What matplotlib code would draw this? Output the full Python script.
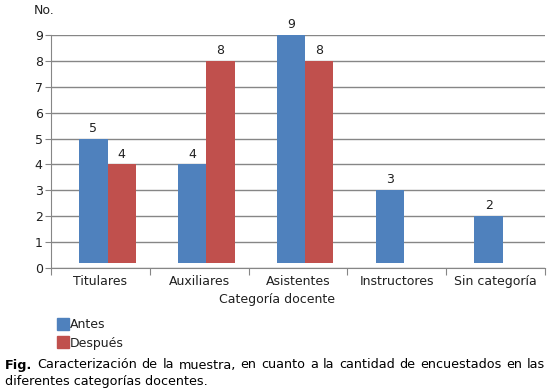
import numpy as np
import matplotlib.pyplot as plt

# datos del gráfico
categorias = ["Titulares", "Auxiliares", "Asistentes", "Instructores", "Sin categoría"]
antes = [5, 4, 9, 3, 2]
despues = [4, 8, 8, None, None]

azul = "#4F81BD"
rojo = "#C0504D"
gris = "#868686"
texto = "#202020"
fs = 9

plt.rcParams['font.family'] = ['DejaVu Sans']

fig = plt.figure(figsize=(5.51, 3.92), dpi=100)
ax = fig.add_axes([51 / 551, 1 - 268 / 392, 494 / 551, 233 / 392])

x = np.arange(len(categorias))
ancho = 0.286
base = 0.18  # las barras arrancan un poco por encima del eje, como en el original

for i, v in enumerate(antes):
    ax.bar(x[i] - 0.214, v - base, width=ancho, bottom=base, color=azul, align='edge')
    ax.text(x[i] - 0.214 + ancho / 2, v + 0.15, str(v), ha='center', va='bottom',
            fontsize=fs, color=texto)
for i, v in enumerate(despues):
    if v is None:
        continue
    ax.bar(x[i] + 0.072, v - base, width=ancho, bottom=base, color=rojo, align='edge')
    ax.text(x[i] + 0.072 + ancho / 2, v + 0.15, str(v), ha='center', va='bottom',
            fontsize=fs, color=texto)

ax.set_xlim(-0.5, len(categorias) - 0.5)
ax.set_ylim(0, 9)
ax.set_yticks(range(0, 10))
ax.yaxis.grid(True, color=gris, linewidth=1)
ax.set_axisbelow(True)
ax.tick_params(axis='y', length=4, color=gris, labelsize=fs, labelcolor=texto, pad=2)

# marcas en los límites de categoría, etiquetas al centro
ax.set_xticks(np.arange(-0.5, len(categorias)), minor=False)
ax.set_xticklabels([])
ax.set_xticks(x, minor=True)
ax.set_xticklabels(categorias, minor=True)
ax.tick_params(axis='x', which='major', length=5, color=gris)
ax.tick_params(axis='x', which='minor', length=0, labelsize=fs, labelcolor=texto, pad=5)

for s in ['top', 'right']:
    ax.spines[s].set_visible(False)
for s in ['left', 'bottom']:
    ax.spines[s].set_color(gris)

fig.text(34 / 551, 1 - 11 / 392, "No.", fontsize=fs, color=texto, va='center')
fig.text(277 / 551, 1 - 299 / 392, "Categoría docente", fontsize=fs, color=texto,
         ha='center', va='center')

# leyenda
fig.patches.append(plt.Rectangle((57 / 551, 1 - 330 / 392), 12 / 551, 12 / 392,
                                 color=azul, transform=fig.transFigure, figure=fig))
fig.patches.append(plt.Rectangle((57 / 551, 1 - 348 / 392), 12 / 551, 12 / 392,
                                 color=rojo, transform=fig.transFigure, figure=fig))
fig.text(70 / 551, 1 - 325 / 392, "Antes", fontsize=fs, color=texto, va='center')
fig.text(70 / 551, 1 - 343 / 392, "Después", fontsize=fs, color=texto, va='center')

# pie de figura, primera línea justificada hasta el borde derecho
fs_pie = 9.2
renderer = fig.canvas.get_renderer()
palabras = ["Fig."] + "Caracterización de la muestra, en cuanto a la cantidad de encuestados en las".split()
objs = []
for k, p in enumerate(palabras):
    t = fig.text(0, 1 - 365 / 392, p, fontsize=fs_pie, color='black', va='center',
                 fontweight='bold' if k == 0 else 'normal')
    objs.append(t)
anchos = [t.get_window_extent(renderer).width for t in objs]
izq, der = 5, 545
hueco = (der - izq - sum(anchos)) / (len(palabras) - 1)
pos = izq
for t, w in zip(objs, anchos):
    t.set_x(pos / 551)
    pos += w + hueco
fig.text(5 / 551, 1 - 381 / 392, "diferentes categorías docentes.", fontsize=fs_pie,
         color='black', va='center')

fig.savefig("out.png", dpi=100)
